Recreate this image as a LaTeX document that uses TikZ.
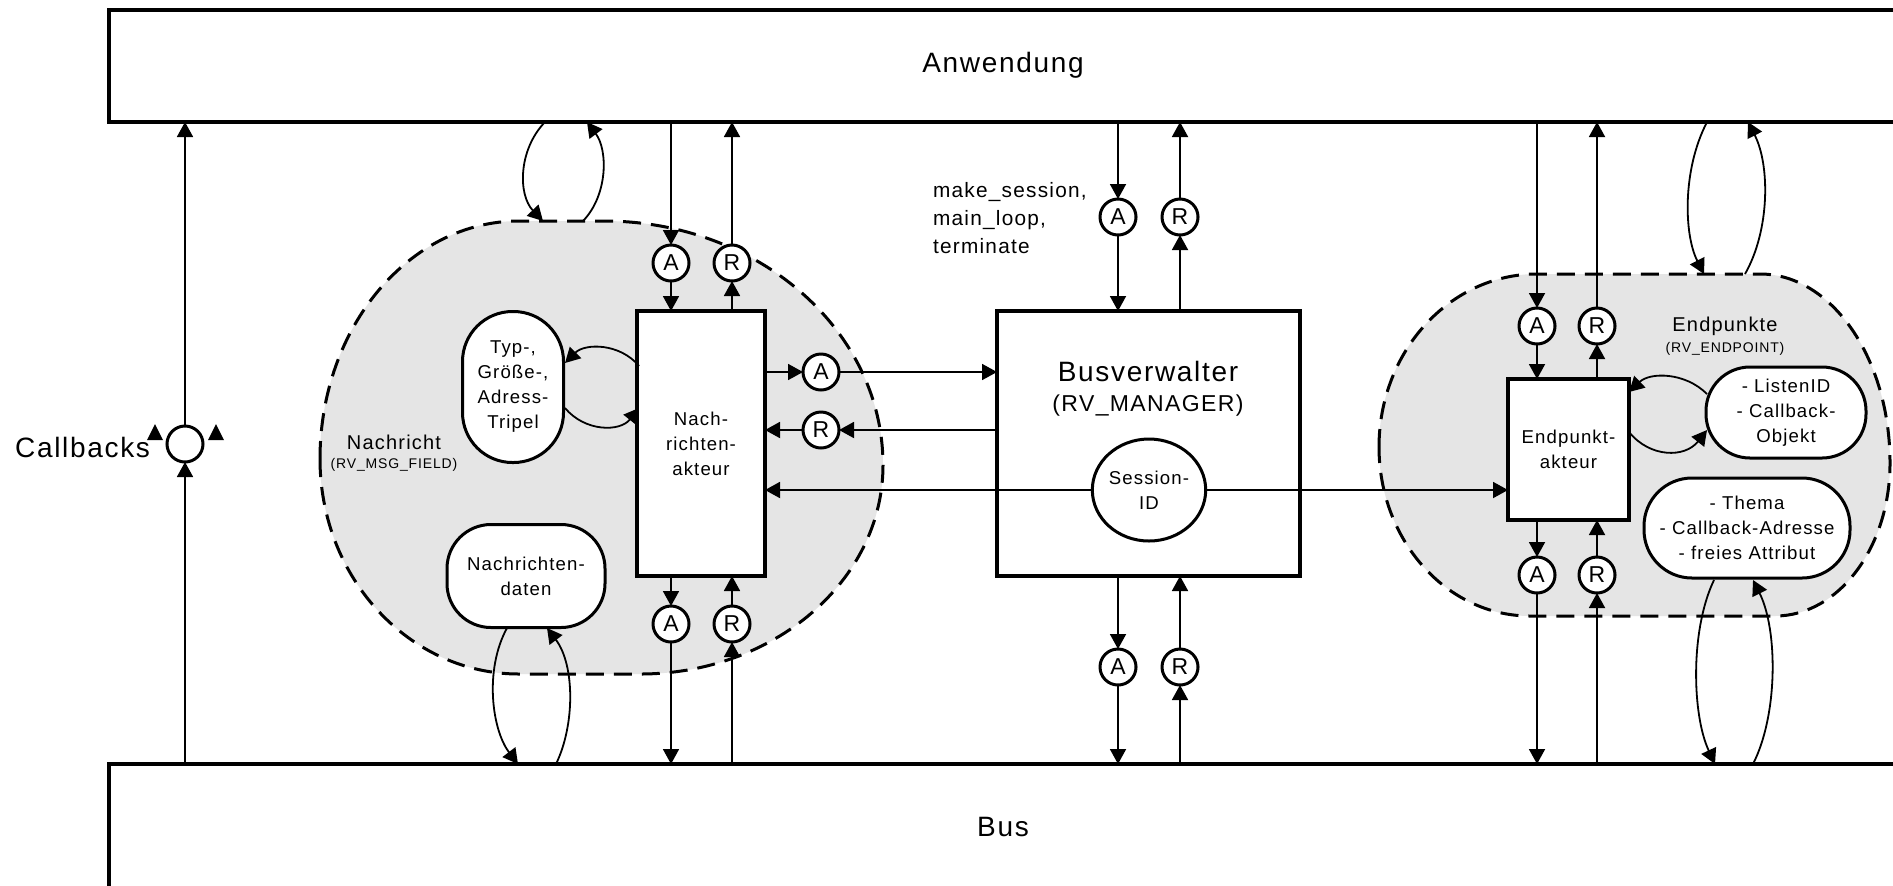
\documentclass[tikz,border=0pt]{standalone}
\usepackage{fontspec}
\setmainfont{Liberation Sans}[LetterSpace=6]
\newfontfamily\portfont{Liberation Sans}
\usetikzlibrary{arrows.meta,shapes.geometric}
\begin{document}
\begin{tikzpicture}[x=0.5pt,y=-0.5pt,
  every node/.style={inner sep=0pt,outer sep=0pt},
  conn/.style={line width=0.9pt},
  arr/.style={conn,-{Triangle[length=7.5pt,width=8pt]}},
  bigbox/.style={draw,line width=1.6pt},
  actor/.style={draw,line width=1.8pt,fill=white},
  pill/.style={draw,line width=1.5pt,fill=white},
  port/.style={draw,circle,line width=1.5pt,fill=white,minimum size=18pt,font=\portfont\fontsize{11.5}{11.5}\selectfont},
  blob/.style={draw,line width=1.5pt,dash pattern=on 9pt off 5pt,fill=black!10},
  inner/.style={align=center,font=\fontsize{9.3}{12.5}\selectfont},
  big/.style={font=\fontsize{14}{14}\selectfont},
  lbl/.style={font=\fontsize{10}{10}\selectfont},
  tiny/.style={font=\fontsize{7}{7}\selectfont},
]
\useasboundingbox (0,0) rectangle (1893,885);
\fill[white] (0,0) rectangle (1893,885);

% blobs
\draw[blob] (320,459) .. controls (320,327.6) and (409.1,221) .. (519,221)
  -- (604,221) .. controls (758.1,221) and (883,330.2) .. (883,465)
  .. controls (883,580.4) and (774.2,674) .. (640,674)
  -- (519,674) .. controls (409.1,674) and (320,577.7) .. (320,459) -- cycle;
\draw[blob] (1379,447) .. controls (1379,351.5) and (1449.7,274) .. (1537,274)
  -- (1760,274) .. controls (1831.8,274) and (1890,358.6) .. (1890,463)
  .. controls (1890,547.5) and (1838.5,616) .. (1775,616)
  -- (1530,616) .. controls (1446.6,616) and (1379,540.3) .. (1379,447) -- cycle;

% big boxes
\node[bigbox,anchor=north west,minimum width=898pt,minimum height=56pt] (app) at (109,10) {};
\node[big] (appl) at (1003,65) {Anwendung};
\node[bigbox,anchor=north west,minimum width=898pt,minimum height=80pt] (bus) at (109,764) {};
\node[big] (busl) at (1003,827) {Bus};

% callbacks
\node[draw,circle,line width=1.5pt,minimum size=18pt] (cb) at (185,444) {};
\node[big,anchor=east] (cbl) at (150,447) {Callbacks};
\draw[arr] (bus.north -| cb) -- (cb.south);
\draw[arr] (cb.north) -- (cb.north |- app.south);
\fill (147,440) -- (163,440) -- (155,424) -- cycle;
\fill (208,440) -- (224,440) -- (216,424) -- cycle;

% Nachricht
\node[lbl] (nl) at (394,442) {Nachricht};
\node[tiny] (nls) at (394,465) {(RV\_MSG\_FIELD)};
\node[pill,inner,minimum width=50.5pt,minimum height=75.5pt,rounded corners=25pt] (typ) at (513,387) {Typ-,\\Größe-,\\Adress-\\Tripel};
\node[pill,inner,minimum width=79pt,minimum height=51.5pt,rounded corners=22pt] (nd) at (526,576) {Nachrichten-\\daten};
\node[actor,inner,minimum width=64pt,minimum height=132.5pt] (na) at (701,443.5) {Nach-\\richten-\\akteur};
\node[port] (naA) at (671,263) {A};
\node[port] (naR) at (732,263) {R};
\node[port] (naA2) at (671,624) {A};
\node[port] (naR2) at (732,624) {R};
\node[port] (naA3) at (821,372) {A};
\node[port] (naR3) at (821,430) {R};

% Busverwalter
\node[actor,minimum width=151.5pt,minimum height=132.5pt] (bv) at (1148.5,443.5) {};
\node[big] (bvt) at (1148,371) {Busverwalter};
\node[font=\fontsize{11.5}{11.5}\selectfont] (bvs) at (1148,406) {(RV\_MANAGER)};
\node[draw,ellipse,line width=1.5pt,fill=white,minimum width=56pt,minimum height=51pt,inner] (sid) at (1149,490) {Session-\\ID};
\node[port] (bvA) at (1118,217) {A};
\node[port] (bvR) at (1180,217) {R};
\node[port] (bvA2) at (1118,667) {A};
\node[port] (bvR2) at (1180,667) {R};
\node[anchor=west,align=left,font=\fontsize{10.4}{14}\selectfont] (ms) at (933,218) {make\_session,\\main\_loop,\\terminate};

% Endpunkte
\node[lbl] (el) at (1725,326) {Endpunkte};
\node[tiny] (els) at (1725,349) {(RV\_ENDPOINT)};
\node[actor,inner,minimum width=60.5pt,minimum height=70.5pt] (ea) at (1568.5,449.5) {Endpunkt-\\akteur};
\node[pill,inner,minimum width=80pt,minimum height=45.5pt,rounded corners=22pt] (li) at (1786,412.5) {- ListenID\\- Callback-\\Objekt};
\node[pill,inner,minimum width=103pt,minimum height=50pt,rounded corners=24pt] (th) at (1747,528) {- Thema\\- Callback-Adresse\\- freies Attribut};
\node[port] (eA) at (1537,326) {A};
\node[port] (eR) at (1597,326) {R};
\node[port] (eA2) at (1537,575) {A};
\node[port] (eR2) at (1597,575) {R};

% Nachricht connectors
\draw[arr] (naA |- app.south) -- (naA.north);
\draw[arr] (naA.south) -- (naA |- na.north);
\draw[arr] (naR |- na.north) -- (naR.south);
\draw[arr] (naR.north) -- (naR |- app.south);
\draw[arr] (naA2 |- na.south) -- (naA2.north);
\draw[arr] (naA2.south) -- (naA2 |- bus.north);
\draw[arr] (naR2 |- bus.north) -- (naR2.south);
\draw[arr] (naR2.north) -- (naR2 |- na.south);
\draw[arr] (na.east |- naA3) -- (naA3.west);
\draw[arr] (naA3.east) -- (naA3 -| bv.west);
\draw[arr] (naR3 -| bv.west) -- (naR3.east);
\draw[arr] (naR3.west) -- (naR3 -| na.east);
\draw[arr] (sid.west) -- (sid.west -| na.east);
\draw[arr] (sid.east) -- (sid.east -| ea.west);

% Busverwalter connectors
\draw[arr] (bvA |- app.south) -- (bvA.north);
\draw[arr] (bvA.south) -- (bvA |- bv.north);
\draw[arr] (bvR |- bv.north) -- (bvR.south);
\draw[arr] (bvR.north) -- (bvR |- app.south);
\draw[arr] (bvA |- bv.south) -- (bvA2.north);
\draw[arr] (bvA2.south) -- (bvA2 |- bus.north);
\draw[arr] (bvR2 |- bus.north) -- (bvR2.south);
\draw[arr] (bvR2.north) -- (bvR2 |- bv.south);

% Endpunkt connectors
\draw[arr] (eA |- app.south) -- (eA.north);
\draw[arr] (eA.south) -- (eA |- ea.north);
\draw[arr] (eR |- ea.north) -- (eR.south);
\draw[arr] (eR.north) -- (eR |- app.south);
\draw[arr] (eA2 |- ea.south) -- (eA2.north);
\draw[arr] (eA2.south) -- (eA2 |- bus.north);
\draw[arr] (eR2 |- bus.north) -- (eR2.south);
\draw[arr] (eR2.north) -- (eR2 |- ea.south);

% curved connectors
\coordinate (n1a) at (545,122); \coordinate (n1b) at (543,221);
\coordinate (n2a) at (583,221); \coordinate (n2b) at (587,122);
\draw[arr] (n1a) .. controls (518,150) and (518,195) .. (n1b);
\draw[arr] (n2a) .. controls (608,195) and (608,150) .. (n2b);

\coordinate (t1a) at (639,366); \coordinate (t1b) at (565,363);
\coordinate (t2a) at (565,408); \coordinate (t2b) at (639,408);
\draw[arr] (t1a) .. controls (620,343) and (585,343) .. (t1b);
\draw[arr] (t2a) .. controls (585,432) and (620,432) .. (t2b);

\coordinate (d1a) at (507,628); \coordinate (d1b) at (518,764);
\coordinate (d2a) at (556,764); \coordinate (d2b) at (547,628);
\draw[arr] (d1a) .. controls (484,670) and (492,730) .. (d1b);
\draw[arr] (d2a) .. controls (575,725) and (575,665) .. (d2b);

\coordinate (e1a) at (1707,122); \coordinate (e1b) at (1704,274);
\coordinate (e2a) at (1745,274); \coordinate (e2b) at (1748,122);
\draw[arr] (e1a) .. controls (1682,170) and (1684,235) .. (e1b);
\draw[arr] (e2a) .. controls (1770,230) and (1770,165) .. (e2b);

\coordinate (l1a) at (1707,394); \coordinate (l1b) at (1629,392);
\coordinate (l2a) at (1629,432); \coordinate (l2b) at (1707,430);
\draw[arr] (l1a) .. controls (1685,372) and (1650,372) .. (l1b);
\draw[arr] (l2a) .. controls (1650,458) and (1685,458) .. (l2b);

\coordinate (h1a) at (1714,580); \coordinate (h1b) at (1715,764);
\coordinate (h2a) at (1753,764); \coordinate (h2b) at (1753,580);
\draw[arr] (h1a) .. controls (1690,630) and (1692,715) .. (h1b);
\draw[arr] (h2a) .. controls (1778,715) and (1778,630) .. (h2b);
\end{tikzpicture}
\end{document}
